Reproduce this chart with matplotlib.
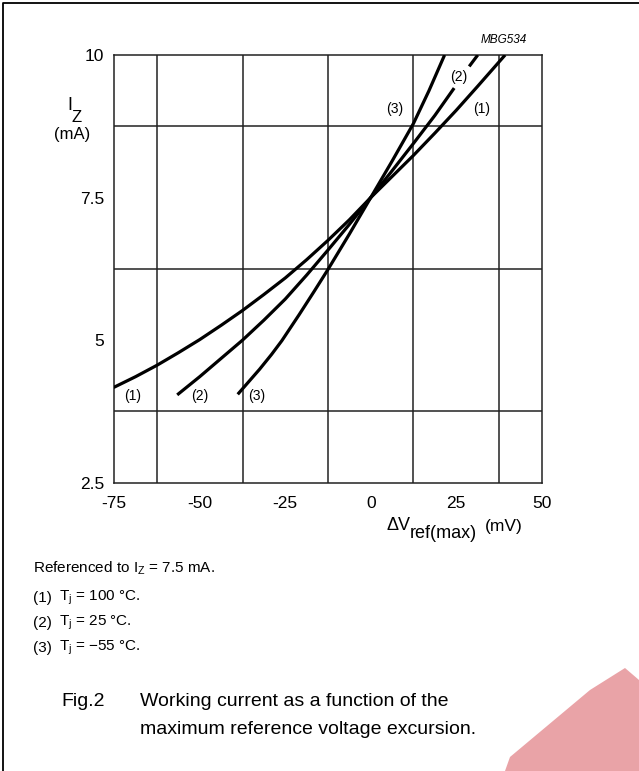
import matplotlib
matplotlib.use("Agg")
import matplotlib.pyplot as plt
from matplotlib.patches import Polygon
from matplotlib.lines import Line2D
import numpy as np

plt.rcParams['font.family'] = ['Liberation Sans', 'DejaVu Sans']
plt.rcParams['mathtext.fontset'] = 'custom'
plt.rcParams['mathtext.rm'] = 'Liberation Sans'
plt.rcParams['mathtext.it'] = 'Liberation Sans:italic'

# ---- data ----
x_ticks = [-75, -50, -25, 0, 25, 50]
x_tick_labels = ['-75', '-50', '-25', '0', '25', '50']
y_ticks = [2.5, 5, 7.5, 10]
y_tick_labels = ['2.5', '5', '7.5', '10']

# curve (1) Tj = 100 C
c1_dv = [-75.2, -68.75, -62.5, -56.25, -50.0, -43.75, -37.5, -31.25, -25.0,
         -18.75, -12.5, -6.25, 0.0, 6.25, 12.5, 18.75, 25.0, 31.25, 39.3]
c1_iz = [4.17, 4.36, 4.56, 4.78, 5.01, 5.26, 5.52, 5.80, 6.09,
         6.41, 6.75, 7.11, 7.5, 7.87, 8.24, 8.63, 9.03, 9.45, 10.0]
# curve (2) Tj = 25 C (solid part below label, short part above it)
c2_dv = [-56.6, -50.0, -43.75, -37.5, -31.25, -25.0, -18.75, -12.5, -6.25,
         0.0, 6.25, 12.5, 18.75, 24.4]
c2_iz = [4.04, 4.36, 4.68, 5.00, 5.35, 5.72, 6.14, 6.58, 7.03,
         7.5, 7.97, 8.45, 8.94, 9.42]
c2b_dv = [28.8, 31.3]
c2b_iz = [9.80, 10.0]
# curve (3) Tj = -55 C
c3_dv = [-38.9, -32.5, -29.0, -26.0, -20.9, -16.5, -12.5, -6.25, 0.0,
         6.25, 12.5, 17.0, 21.6]
c3_iz = [4.05, 4.49, 4.75, 4.99, 5.45, 5.86, 6.24, 6.86, 7.5,
         8.14, 8.80, 9.37, 10.0]

curve_labels = ['(1)', '(2)', '(3)', '(3)', '(2)', '(1)']
label_dv = [-69.7, -50.1, -33.5, 6.9, 25.6, 32.3]
label_iz = [4.02, 4.02, 4.02, 9.05, 9.62, 9.05]

W, H = 639, 771
fig = plt.figure(figsize=(W / 100, H / 100), dpi=100)


def fx(px):
    return px / W


def fy(py):
    return 1 - py / H


# watermark (red logo fragment, bottom right)
wm = Polygon([(fx(505), fy(771)), (fx(510), fy(757)), (fx(590), fy(690)),
              (fx(625), fy(668)), (fx(639), fy(680)), (fx(639), fy(771))],
             closed=True, transform=fig.transFigure, facecolor='#e9a3a7',
             edgecolor='none', zorder=0)
fig.patches.append(wm)

# frame (left and top edges visible)
fig.lines.append(Line2D([fx(3), fx(3), fx(639)], [fy(771), fy(3), fy(3)],
                        transform=fig.transFigure, color='black', lw=1.3))

left, right, top, bottom = 114.3, 541.7, 55.0, 482.7
ax = fig.add_axes([fx(left), fy(bottom), (right - left) / W, (bottom - top) / H])
ax.set_xlim(-75, 50)
ax.set_ylim(2.5, 10)
ax.set_xticks(x_ticks)
ax.set_xticklabels(x_tick_labels)
ax.set_yticks(y_ticks)
ax.set_yticklabels(y_tick_labels)
ax.set_xticks(np.arange(-75, 50.1, 12.5), minor=True)
ax.set_yticks(np.arange(2.5, 10.01, 1.25), minor=True)
ax.grid(which='minor', color='#222222', linewidth=1.1)
ax.tick_params(which='both', length=0, labelsize=12.5)
ax.tick_params(axis='x', pad=9.5)
ax.tick_params(axis='y', pad=7.5)
for s in ax.spines.values():
    s.set_color('#222222')
    s.set_linewidth(1.1)
ax.set_facecolor('none')

lw = 2.3
for xs, ys in [(c1_dv, c1_iz), (c2_dv, c2_iz), (c2b_dv, c2b_iz), (c3_dv, c3_iz)]:
    ax.plot(xs, ys, color='black', lw=lw, solid_capstyle='butt',
            solid_joinstyle='round', zorder=3)
for t, xv, yv in zip(curve_labels, label_dv, label_iz):
    ax.text(xv, yv, t, ha='center', va='center', fontsize=10,
            bbox=dict(facecolor='white', edgecolor='none', pad=0.5), zorder=4)

# y-axis label
fig.text(fx(72.5), fy(105), 'I', fontsize=13, ha='right', va='center')
fig.text(fx(72.0), fy(118), 'Z', fontsize=12, ha='left', va='center')
fig.text(fx(72), fy(135), '(mA)', fontsize=12, ha='center', va='center')
# x-axis label
fig.text(fx(410), fy(525), 'ΔV', fontsize=13, ha='right', va='center')
fig.text(fx(410), fy(533), 'ref(max)', fontsize=13, ha='left', va='center')
fig.text(fx(485), fy(526), '(mV)', fontsize=12.5, ha='left', va='center')

fig.text(fx(527), fy(40), 'MBG534', fontsize=8.5, style='italic', ha='right', va='center')

# notes
fs = 11
fig.text(fx(33), fy(568), r'Referenced to I$_{\mathregular{Z}}$ = 7.5 mA.', fontsize=fs, va='center')
notes = [('(1)', r'T$_{\mathregular{j}}$ = 100 °C.'),
         ('(2)', r'T$_{\mathregular{j}}$ = 25 °C.'),
         ('(3)', r'T$_{\mathregular{j}}$ = −55 °C.')]
for i, (a, b) in enumerate(notes):
    y = 598 + 25 * i
    fig.text(fx(33), fy(y), a, fontsize=fs, va='center')
    fig.text(fx(59), fy(y), b, fontsize=fs, va='center')

fig.text(fx(61), fy(701), 'Fig.2', fontsize=14, va='center')
fig.text(fx(140), fy(701), 'Working current as a function of the', fontsize=14, va='center')
fig.text(fx(140), fy(730), 'maximum reference voltage excursion.', fontsize=14, va='center')

fig.savefig('out.png', dpi=100)
